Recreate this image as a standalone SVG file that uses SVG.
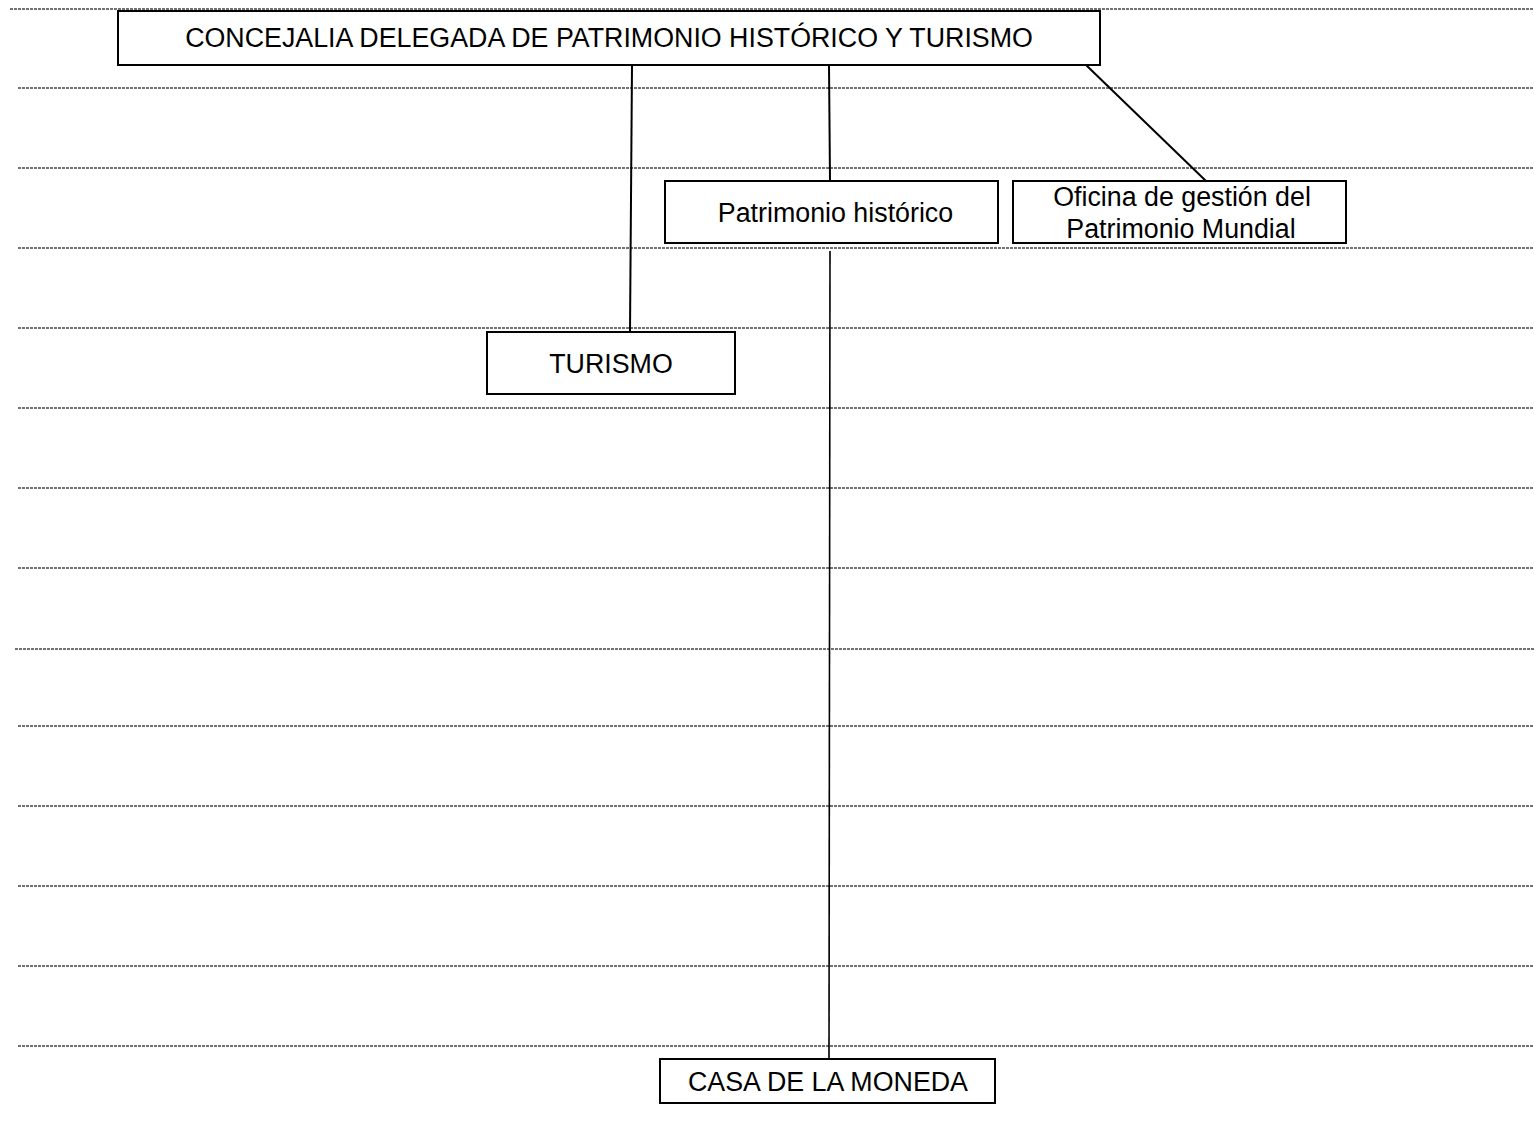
<svg xmlns="http://www.w3.org/2000/svg" width="1534" height="1123" viewBox="0 0 1534 1123">
<style>
.rule{stroke:#444;stroke-width:1.4;stroke-dasharray:3 1;fill:none}
.box{fill:#fff;stroke:#000;stroke-width:2}
.lbl{font-family:"Liberation Sans",Arial,sans-serif;font-size:26.8px;fill:#000;text-anchor:middle}
.con{stroke:#000;stroke-width:2;fill:none}
</style>
<rect width="1534" height="1123" fill="#fff"/>
<g id="rules">
<line class="rule" x1="10" y1="9" x2="1534" y2="9"/>
<line class="rule" x1="18" y1="88" x2="1534" y2="88"/>
<line class="rule" x1="18" y1="168" x2="1534" y2="168"/>
<line class="rule" x1="18" y1="248" x2="1534" y2="248"/>
<line class="rule" x1="18" y1="328" x2="1534" y2="328"/>
<line class="rule" x1="18" y1="408" x2="1534" y2="408"/>
<line class="rule" x1="18" y1="488" x2="1534" y2="488"/>
<line class="rule" x1="18" y1="568" x2="1534" y2="568"/>
<line class="rule" x1="15" y1="649" x2="1534" y2="649"/>
<line class="rule" x1="18" y1="726" x2="1534" y2="726"/>
<line class="rule" x1="18" y1="806" x2="1534" y2="806"/>
<line class="rule" x1="18" y1="886" x2="1534" y2="886"/>
<line class="rule" x1="18" y1="966" x2="1534" y2="966"/>
<line class="rule" x1="18" y1="1046" x2="1534" y2="1046"/>
</g>
<g id="connectors">
<line class="con" x1="632" y1="65" x2="630" y2="332"/>
<line class="con" x1="829" y1="65" x2="830" y2="181"/>
<line class="con" x1="830" y1="251" x2="829" y2="1059" style="stroke-width:1.6"/>
<line class="con" x1="1086" y1="65" x2="1206" y2="181"/>
</g>
<g id="node-concejalia">
<rect class="box" x="118" y="11" width="982" height="54"/>
<text class="lbl" x="609" y="46.5">CONCEJALIA DELEGADA DE PATRIMONIO HISTÓRICO Y TURISMO</text>
</g>
<g id="node-patrimonio">
<rect class="box" x="665" y="181" width="333" height="62"/>
<text class="lbl" x="835.5" y="222">Patrimonio histórico</text>
</g>
<g id="node-oficina">
<rect class="box" x="1013" y="181" width="333" height="62"/>
<text class="lbl" x="1182" y="206">Oficina de gestión del</text>
<text class="lbl" x="1181" y="237.5">Patrimonio Mundial</text>
</g>
<g id="node-turismo">
<rect class="box" x="487" y="332" width="248" height="62"/>
<text class="lbl" x="611" y="373">TURISMO</text>
</g>
<g id="node-casa">
<rect class="box" x="660" y="1059" width="335" height="44"/>
<text class="lbl" x="828" y="1091">CASA DE LA MONEDA</text>
</g>
</svg>
